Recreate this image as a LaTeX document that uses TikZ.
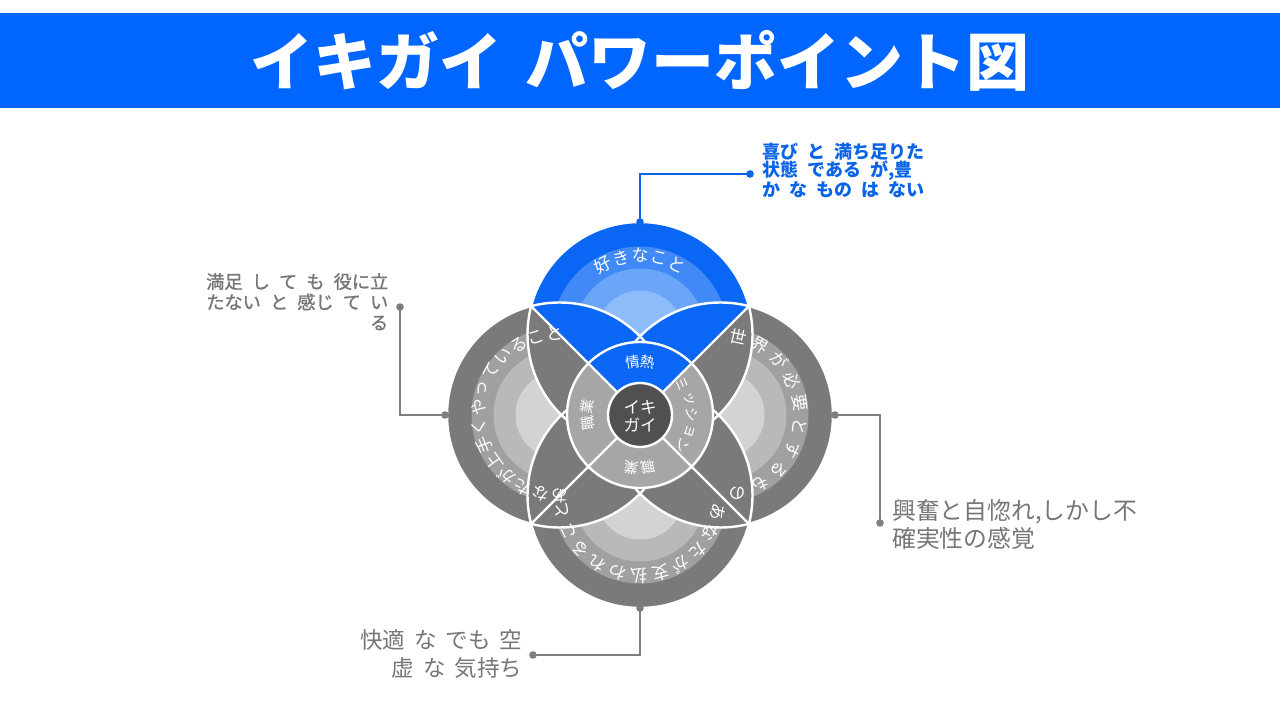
\documentclass[tikz,border=0pt]{standalone}
\usepackage{fontspec}
\newfontfamily\jp{Noto Sans CJK JP}
\newfontfamily\jpm{Noto Sans CJK JP}[FakeBold=1.2]
\usetikzlibrary{calc}
\definecolor{titleblue}{HTML}{0066FF}
\definecolor{bO}{HTML}{0A66F5}
\definecolor{bA}{HTML}{4189F6}
\definecolor{bB}{HTML}{6BA5F8}
\definecolor{bC}{HTML}{8EBBFA}
\definecolor{gO}{HTML}{7A7A7A}
\definecolor{gA}{HTML}{A0A0A0}
\definecolor{gB}{HTML}{B9B9B9}
\definecolor{gC}{HTML}{D3D3D3}
\definecolor{cgray}{HTML}{A6A6A6}
\definecolor{cdark}{HTML}{505050}
\definecolor{lgray}{HTML}{7F7F7F}
\definecolor{tgray}{HTML}{767676}
\definecolor{lblue}{HTML}{0A64E8}
\newcommand{\jsp}{\hspace{0.5em}}
\newcommand{\jsq}{\hspace{0.4em}}
\begin{document}
\begin{tikzpicture}[x=1pt,y=1pt,
  wline/.style={white,line width=2.4pt},
  arctext/.style={text=white,inner sep=0pt,font=\jp\fontsize{17}{17}\selectfont},
  qtext/.style={text=white,inner sep=0pt,font=\jp\fontsize{14.5}{14.5}\selectfont},
  conn/.style={line width=1.8pt},
  dotst/.style={radius=3.8},
]
\useasboundingbox (0,0) rectangle (1280,720);
\fill[white] (0,0) rectangle (1280,720);
% title
\fill[titleblue] (0,612) rectangle (1280,707);
\node[text=white,font=\jp\bfseries\fontsize{63}{63}\selectfont,inner sep=0pt] (title) at (640,659) {イキガイ\hspace{0.35em}パワーポイント図};
% circle centres
\coordinate (O) at (640,305);
\coordinate (T) at (640,385.5);
\coordinate (L) at (559.5,305);
\coordinate (Rr) at (720.5,305);
\coordinate (B) at (640,224.5);
% circles with rings
\foreach \c/\o/\a/\b/\d in {T/bO/bA/bB/bC, L/gO/gA/gB/gC, Rr/gO/gA/gB/gC, B/gO/gA/gB/gC}{
  \fill[\o] (\c) circle[radius=112.5];
  \fill[\a] (\c) circle[radius=88];
  \fill[\b] (\c) circle[radius=66];
  \fill[\d] (\c) circle[radius=44];
}
% overlap regions, split by the diagonals
\begin{scope}
  \clip (640,305) -- (330,615) -- (950,615) -- cycle;
  \fill[bO] (L) circle[radius=112.5];
  \fill[bO] (Rr) circle[radius=112.5];
\end{scope}
\begin{scope}
  \clip (640,305) -- (330,615) -- (330,-5) -- cycle;
  \fill[gO] (T) circle[radius=112.5];
  \fill[gO] (B) circle[radius=112.5];
\end{scope}
\begin{scope}
  \clip (640,305) -- (950,615) -- (950,-5) -- cycle;
  \fill[gO] (T) circle[radius=112.5];
  \fill[gO] (B) circle[radius=112.5];
\end{scope}
\begin{scope}
  \clip (640,305) -- (330,-5) -- (950,-5) -- cycle;
  \fill[gO] (L) circle[radius=112.5];
  \fill[gO] (Rr) circle[radius=112.5];
\end{scope}
% white outlines
\foreach \c in {T,L,Rr,B}{ \draw[wline] (\c) circle[radius=112.5]; }
\coordinate (dNW) at ($(O)+(135:153.9)$);
\coordinate (dSE) at ($(O)+(-45:153.9)$);
\coordinate (dNE) at ($(O)+(45:153.9)$);
\coordinate (dSW) at ($(O)+(-135:153.9)$);
% centre ring
\fill[cgray] (O) circle[radius=73];
\begin{scope}
  \clip (640,305) -- (330,615) -- (950,615) -- cycle;
  \fill[bO] (O) circle[radius=73];
\end{scope}
\draw[wline] (dNW) -- (dSE);
\draw[wline] (dNE) -- (dSW);
\draw[wline] (O) circle[radius=73];
\fill[cdark] (O) circle[radius=32];
\draw[wline] (O) circle[radius=32];
\node[text=white,align=center,inner sep=0pt,font=\jp\fontsize{16.5}{18}\selectfont] (ikigai) at (640,304) {イキ\\ガイ};
% curved texts of the four circles
\foreach \ch [count=\i from 0] in {好,き,な,こ,と}{
  \pgfmathsetmacro\ang{118-\i*14}
  \node[arctext,rotate=\ang-90] (tt\i) at ($(T)+(\ang:79)$) {\ch};
}
\foreach \ch [count=\i from 0] in {世,界,が,必,要,と,す,る,も,の}{
  \pgfmathsetmacro\ang{77.4-\i*17.2}
  \node[arctext,rotate=\ang-90] (rt\i) at ($(Rr)+(\ang:80)$) {\ch};
}
\foreach \ch [count=\i from 0] in {あ,な,た,が,支,払,わ,れ,る,こ,と}{
  \pgfmathsetmacro\ang{-12.3-\i*15.7}
  \node[arctext,rotate=\ang-90] (bt\i) at ($(B)+(\ang:80)$) {\ch};
}
\foreach \ch [count=\i from 0] in {あ,な,た,が,上,手,く,や,っ,て,い,る,こ,と}{
  \pgfmathsetmacro\ang{270-\i*13.6}
  \node[arctext,rotate=\ang-90] (lt\i) at ($(L)+(\ang:81)$) {\ch};
}
% centre quadrant labels
\foreach \ch [count=\i from 0] in {情,熱}{
  \pgfmathsetmacro\ang{98-\i*16}
  \node[qtext,rotate=\ang-90] (qt\i) at ($(O)+(\ang:53)$) {\ch};
}
\foreach \ch [count=\i from 0] in {ミ,ッ,シ,ョ,ン}{
  \pgfmathsetmacro\ang{36-\i*18}
  \node[qtext,rotate=\ang-90] (qr\i) at ($(O)+(\ang:52)$) {\ch};
}
\foreach \ch [count=\i from 0] in {職,業}{
  \pgfmathsetmacro\ang{-81-\i*18}
  \node[qtext,rotate=\ang-90] (qb\i) at ($(O)+(\ang:53)$) {\ch};
}
\foreach \ch [count=\i from 0] in {職,業}{
  \pgfmathsetmacro\ang{189-\i*18}
  \node[qtext,rotate=\ang-90] (ql\i) at ($(O)+(\ang:53)$) {\ch};
}
% connectors
\coordinate (tdot) at (640,498);
\coordinate (tend) at (750,546);
\draw[conn,lblue] (tdot) |- (tend);
\fill[lblue] (tdot) circle[dotst];
\fill[lblue] (tend) circle[dotst];
\coordinate (ldot) at (445,305);
\coordinate (lend) at (400,413);
\draw[conn,lgray] (ldot) -| (lend);
\fill[lgray] (ldot) circle[dotst];
\fill[lgray] (lend) circle[dotst];
\coordinate (rdot) at (835,305);
\coordinate (rend) at (880,197);
\draw[conn,lgray] (rdot) -| (rend);
\fill[lgray] (rdot) circle[dotst];
\fill[lgray] (rend) circle[dotst];
\coordinate (bdot) at (640,112);
\coordinate (bend) at (533,65);
\draw[conn,lgray] (bdot) |- (bend);
\fill[lgray] (bdot) circle[dotst];
\fill[lgray] (bend) circle[dotst];
% labels
\node[anchor=north west,align=left,inner sep=0pt,text=lblue,font=\jp\bfseries\fontsize{18}{18.5}\selectfont] (toplab) at (762.5,577.5)
  {喜び\jsp と\jsp 満ち足りた\\状態\jsp である\jsp が,豊\\か\jsp な\jsp もの\jsp は\jsp ない};
\node[anchor=north east,align=right,inner sep=0pt,text=tgray,font=\jpm\fontsize{18.2}{20.5}\selectfont] (leftlab) at (388.5,447)
  {満足\jsp し\jsp て\jsp も\jsp 役に立\\たない\jsp と\jsp 感じ\jsp て\jsp い\\る};
\node[anchor=west,align=left,inner sep=0pt,text=tgray,font=\jp\fontsize{23.8}{28}\selectfont] (rightlab) at (892,196)
  {興奮と自惚れ,しかし不\\確実性の感覚};
\node[anchor=east,align=right,inner sep=0pt,text=tgray,font=\jp\fontsize{22.5}{28}\selectfont] (botlab) at (522.5,66)
  {快適\jsq な\jsq でも\jsq 空\\虚\jsq な\jsq 気持ち};
\end{tikzpicture}
\end{document}
